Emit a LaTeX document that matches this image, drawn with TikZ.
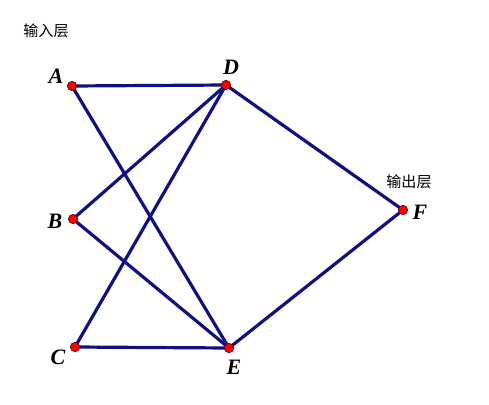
\documentclass[tikz,border=0pt]{standalone}
\usepackage{fontspec}
\setmainfont{Liberation Serif}
\newfontfamily\cjk{Noto Sans CJK SC}
\begin{document}
\begin{tikzpicture}[x=0.75pt,y=-0.75pt,
  edge/.style={draw={rgb,255:red,16;green,16;blue,128},line width=2.4pt},
  dot/.style={circle,fill=red,draw={rgb,255:red,90;green,0;blue,0},line width=0.5pt,inner sep=0pt,minimum size=7pt},
  lbl/.style={font=\fontsize{16.5}{16.5}\selectfont\bfseries\itshape},
  layertext/.style={font=\cjk\fontsize{11.3}{12}\selectfont}]
\useasboundingbox (0,0) rectangle (489,404);
\coordinate (A) at (72,86);
\coordinate (D) at (226,85);
\coordinate (B) at (73,219);
\coordinate (C) at (75,347);
\coordinate (E) at (229,348);
\coordinate (F) at (403,210);
\draw[edge] (A) -- (D);
\draw[edge] (A) -- (E);
\draw[edge] (D) -- (B);
\draw[edge] (D) -- (C);
\draw[edge] (D) -- (F);
\draw[edge] (B) -- (E);
\draw[edge] (C) -- (E);
\draw[edge] (E) -- (F);
\foreach \p in {A,B,C,D,E,F} \node[dot] (n\p) at (\p) {};
\node[lbl] (lA) at (56,76) {A};
\node[lbl] (lD) at (231,67) {D};
\node[lbl] (lB) at (55,221) {B};
\node[lbl] (lC) at (58,357) {C};
\node[lbl] (lE) at (234,367) {E};
\node[lbl] (lF) at (420,212) {F};
\node[layertext] (t1) at (46,31) {输入层};
\node[layertext] (t2) at (409,182) {输出层};
\end{tikzpicture}
\end{document}
